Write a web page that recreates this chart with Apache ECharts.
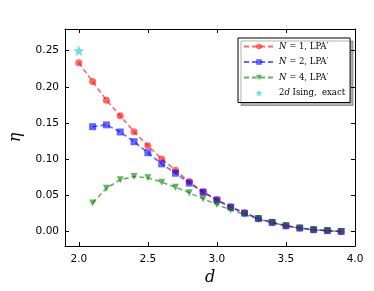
<!DOCTYPE html>
<html><head><meta charset="utf-8">
<script src="https://cdn.jsdelivr.net/npm/echarts@6/dist/echarts.min.js"></script>
<style>html,body{margin:0;padding:0;background:#fff}#c{width:374px;height:291px}</style>
</head><body><div id="c"></div>
<script>
const dN1 = [2.0,2.1,2.2,2.3,2.4,2.5,2.6,2.7,2.8,2.9,3.0,3.1,3.2,3.3,3.4,3.5,3.6,3.7,3.8,3.9];
const etaN1 = [0.2335,0.2073,0.1817,0.160,0.138,0.1188,0.1005,0.0848,0.0692,0.055,0.044,0.034,0.026,0.018,0.0128,0.0082,0.005,0.0027,0.0014,0.0003];
const dN2 = [2.1,2.2,2.3,2.4,2.5,2.6,2.7,2.8,2.9,3.0,3.1,3.2,3.3,3.4,3.5,3.6,3.7,3.8,3.9];
const etaN2 = [0.145,0.1475,0.1377,0.1243,0.109,0.0936,0.0807,0.067,0.0546,0.0436,0.034,0.0255,0.018,0.0127,0.0081,0.005,0.0027,0.0014,0.0003];
const dN4 = [2.1,2.2,2.3,2.4,2.5,2.6,2.7,2.8,2.9,3.0,3.1,3.2,3.3,3.4,3.5,3.6,3.7,3.8,3.9];
const etaN4 = [0.0394,0.060,0.0716,0.0761,0.0743,0.0683,0.0614,0.0537,0.0454,0.0376,0.0298,0.0238,0.0174,0.0124,0.0078,0.0046,0.0023,0.001,0.0002];
const dIsing = [2.0];
const etaIsing = [0.25];
const xTicks = [2.0,2.5,3.0,3.5,4.0];
const yTicks = [0.00,0.05,0.10,0.15,0.20,0.25];
const names = ['N1','N2','N4','Ising'];

const pairs = (xs, ys) => xs.map((x,i)=>[x, ys[i]]);
const star = 'path://M0,-10 L2.35,-3.24 9.51,-3.09 3.8,1.24 5.88,8.09 0,4 -5.88,8.09 -3.8,1.24 -9.51,-3.09 -2.35,-3.24 Z';

const chart = echarts.init(document.getElementById('c'), null, {renderer:'canvas'});
const axisCommon = {
  axisLine:{show:true, onZero:false, lineStyle:{color:'#000', width:1}},
  splitLine:{show:false},
};
const legendText = {
  N1: '{i|N}{r| = 1, LPA}{p|′}',
  N2: '{i|N}{r| = 2, LPA}{p|′}',
  N4: '{i|N}{r| = 4, LPA}{p|′}',
  Ising: '{r|2}{i|d}{r| Ising,  exact}'
};
const lineSeries = (name, xs, ys, color, symbol, rot) => ({
  name, type:'line', xAxisIndex:0, yAxisIndex:0,
  data: pairs(xs, ys),
  symbol, symbolSize: 7, symbolRotate: rot||0,
  showSymbol:true,
  lineStyle:{color, width:1.6, type:[5,3]},
  itemStyle:{color, opacity:1},
  animation:false
});
chart.setOption({
  animation:false,
  grid:{left:63, right:19, top:29, bottom:43},
  xAxis:[
    Object.assign({type:'value', min:1.9, max:4.0, position:'bottom',
      name:'d', nameLocation:'middle', nameGap:19,
      nameTextStyle:{fontFamily:'DejaVu Serif', fontStyle:'italic', fontSize:16, color:'#000'},
      axisTick:{show:true, inside:true, length:4, customValues:xTicks, lineStyle:{color:'#000'}},
      axisLabel:{show:true, margin:8, customValues:xTicks, formatter:v=>v.toFixed(1), fontFamily:'DejaVu Sans', fontSize:10.5, color:'#000'}
    }, axisCommon),
    Object.assign({type:'value', min:1.9, max:4.0, position:'top',
      axisTick:{show:true, inside:true, length:4, customValues:xTicks, lineStyle:{color:'#000'}},
      axisLabel:{show:false}
    }, axisCommon)
  ],
  yAxis:[
    Object.assign({type:'value', min:-0.02, max:0.28, position:'left',
      name:'η', nameLocation:'middle', nameGap:41, nameRotate:90,
      nameTextStyle:{fontFamily:'DejaVu Serif', fontStyle:'italic', fontSize:16, color:'#000'},
      axisTick:{show:true, inside:true, length:4, customValues:yTicks, lineStyle:{color:'#000'}},
      axisLabel:{show:true, margin:6, customValues:yTicks, formatter:v=>v.toFixed(2), fontFamily:'DejaVu Sans', fontSize:10.5, color:'#000'}
    }, axisCommon),
    Object.assign({type:'value', min:-0.02, max:0.28, position:'right',
      axisTick:{show:true, inside:true, length:4, customValues:yTicks, lineStyle:{color:'#000'}},
      axisLabel:{show:false}
    }, axisCommon)
  ],
  legend:{
    orient:'vertical', left:238, top:38,
    data:names,
    itemWidth:30, itemHeight:7, itemGap:4.5,
    padding:[3,5,4,5],
    backgroundColor:'#fff', borderColor:'#000', borderWidth:1, borderRadius:0,
    shadowColor:'rgba(0,0,0,0.3)', shadowBlur:0, shadowOffsetX:3, shadowOffsetY:3,
    formatter: n => legendText[n],
    textStyle:{
      lineHeight:11,
      rich:{
        i:{fontFamily:'DejaVu Serif', fontStyle:'italic', fontSize:8.5, color:'#000', lineHeight:11, height:11},
        r:{fontFamily:'DejaVu Serif', fontSize:8.5, color:'#000', lineHeight:11, height:11},
        p:{fontFamily:'DejaVu Serif', fontSize:9, color:'#000', lineHeight:11, height:11, verticalAlign:'top'}
      }
    }
  },
  series:[
    lineSeries('N1', dN1, etaN1, 'rgba(255,0,0,0.6)', 'circle'),
    lineSeries('N2', dN2, etaN2, 'rgba(0,0,255,0.6)', 'rect'),
    lineSeries('N4', dN4, etaN4, 'rgba(0,128,0,0.6)', 'triangle', 180),
    {name:'Ising', type:'scatter', data:pairs(dIsing, etaIsing), symbol:star, symbolSize:11,
     itemStyle:{color:'rgba(0,191,191,0.7)'}, animation:false}
  ]
});
</script></body></html>
